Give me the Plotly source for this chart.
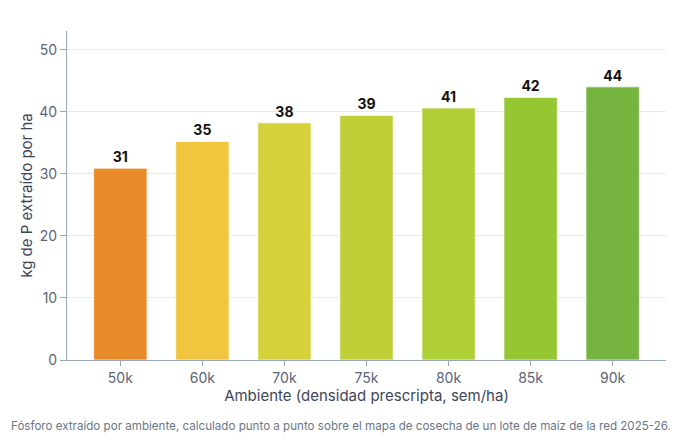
import plotly.graph_objects as go

ambientes = ["50k", "60k", "70k", "75k", "80k", "85k", "90k"]
p_extraido = [30.9, 35.2, 38.2, 39.4, 40.6, 42.3, 44.0]
colores = ["#EA8B29", "#F1C53D", "#D4D13B", "#BFCF38", "#B0CF37", "#95C733", "#75B43F"]

fig = go.Figure()

fig.add_trace(go.Bar(
    x=ambientes, y=p_extraido,
    marker_color=colores,
    marker_line=dict(color="rgba(255,255,255,0.7)", width=1),
    text=[f"{v:.0f}" for v in p_extraido],
    textposition="outside",
    textfont=dict(family="Inter", size=14, color="#111111", weight="bold"),
    cliponaxis=False,
    showlegend=False,
))

# the page adds an 8px body margin, so margins are shifted to compensate
fig.update_layout(
    width=688, height=443,
    margin=dict(l=59, r=30, t=23, b=91),
    paper_bgcolor="white", plot_bgcolor="white",
    font=dict(family="Inter", size=13, color="#5b6577"),
    bargap=0.35,
    annotations=[dict(
        text="Fósforo extraído por ambiente, calculado punto a punto sobre el mapa de cosecha de un lote de maíz de la red 2025-26.",
        xref="paper", yref="paper", x=0.458, y=-0.201,
        xanchor="center", yanchor="middle", showarrow=False,
        font=dict(family="Inter", size=11.6, color="#6b7689"),
    )],
)

fig.update_xaxes(
    range=[-0.65, 6.65],
    showline=True, linecolor="#9aa8bb", linewidth=1,
    ticks="outside", ticklen=5, tickcolor="#9aa8bb",
    tickfont=dict(size=14, color="#5b6577"),
    title=dict(text="Ambiente (densidad prescripta, sem/ha)", standoff=4,
               font=dict(size=15, color="#3d4658")),
)
fig.update_yaxes(
    range=[0, 53], tickvals=[0, 10, 20, 30, 40, 50],
    showline=True, linecolor="#9aa8bb", linewidth=1,
    ticks="outside", ticklen=6, tickcolor="#9aa8bb",
    showgrid=True, gridcolor="#e6ebf2", gridwidth=1,
    zeroline=False,
    tickfont=dict(size=14, color="#5b6577"),
    title=dict(text="kg de P extraído por ha", standoff=3,
               font=dict(size=15, color="#3d4658")),
)

fig.write_html("out.html")
